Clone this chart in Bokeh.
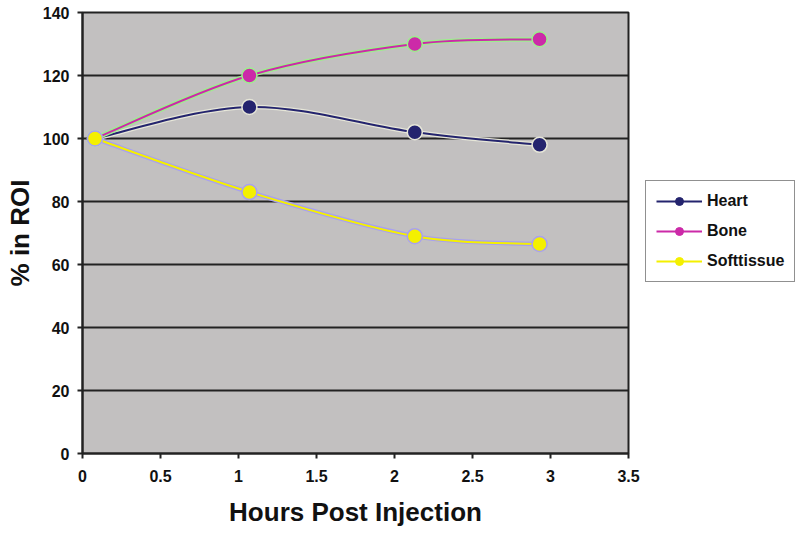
import numpy as np
from bokeh.plotting import figure
from bokeh.layouts import row
from bokeh.models import Legend, LegendItem, FixedTicker, Range1d
from bokeh.embed import file_html
from bokeh.resources import INLINE

# ---- data ----
hours = [0.08, 1.07, 2.13, 2.93]
heart = [100, 110, 102, 98]
bone = [100, 120, 130, 131.5]
softtissue = [100, 83, 69, 66.5]

x_ticks = [0, 0.5, 1, 1.5, 2, 2.5, 3, 3.5]
x_tick_labels = ["0", "0.5", "1", "1.5", "2", "2.5", "3", "3.5"]
y_ticks = [0, 20, 40, 60, 80, 100, 120, 140]

series = [
    ("Heart", heart, "#24246e", "#e6e6d8"),
    ("Bone", bone, "#cc2aa8", "#9cef8c"),
    ("Softtissue", softtissue, "#f4f000", "#a8a0f0"),
]

p = figure(width=640, height=532, output_backend="svg", toolbar_location=None,
           x_range=Range1d(0, 3.5), y_range=Range1d(0, 140),
           min_border_left=82, min_border_right=12, min_border_top=12,
           min_border_bottom=79)
p.border_fill_color = "white"
p.background_fill_color = "#c2c0c0"
p.outline_line_color = "#222222"
p.outline_line_width = 2

p.xgrid.visible = False
p.ygrid.ticker = FixedTicker(ticks=y_ticks)
p.ygrid.grid_line_color = "#222222"
p.ygrid.grid_line_width = 2

for ax in (p.xaxis[0], p.yaxis[0]):
    ax.axis_line_color = "#222222"
    ax.axis_line_width = 2
    ax.major_tick_line_color = "#222222"
    ax.major_tick_line_width = 2
    ax.major_tick_out = 5
    ax.major_tick_in = 0
    ax.minor_tick_line_color = None
    ax.major_label_text_font = "Liberation Sans"
    ax.major_label_text_font_style = "bold"
    ax.major_label_text_font_size = "16px"
    ax.major_label_text_color = "#111111"
    ax.axis_label_text_font = "Liberation Sans"
    ax.axis_label_text_font_style = "bold"
    ax.axis_label_text_color = "#111111"

p.xaxis.ticker = FixedTicker(ticks=x_ticks)
p.xaxis.major_label_overrides = {t: l for t, l in zip(x_ticks, x_tick_labels)}
p.xaxis.major_label_standoff = 11
p.yaxis.ticker = FixedTicker(ticks=y_ticks)
p.yaxis.major_label_standoff = 8
p.xaxis.axis_label = "Hours Post Injection"
p.xaxis.axis_label_text_font_size = "26px"
p.xaxis.axis_label_standoff = 12
p.yaxis.axis_label = "% in ROI"
p.yaxis.axis_label_text_font_size = "26px"
p.yaxis.axis_label_standoff = 5

# legend panel (to the right of the plot); its frame is aligned with the plot frame
pl = figure(width=160, height=532, output_backend="svg", toolbar_location=None,
            x_range=Range1d(0, 1), y_range=Range1d(0, 1),
            min_border=0, x_axis_location=None, y_axis_location=None)
pl.outline_line_color = None
pl.xgrid.visible = False
pl.ygrid.visible = False
pl.background_fill_color = "white"
pl.border_fill_color = "white"

items = []
xs = np.array(hours, dtype=float)
for name, vals, color, halo in series:
    ys = np.array(vals, dtype=float)
    n = len(xs)
    # Catmull-Rom style smooth curve segments (Excel-like smoothing)
    xp = np.concatenate([[xs[0]], xs, [xs[-1]]])
    yp = np.concatenate([[ys[0]], ys, [ys[-1]]])
    x0 = xs[:-1]; y0 = ys[:-1]; x1 = xs[1:]; y1 = ys[1:]
    cx0 = x0 + (xp[2:n + 1] - xp[0:n - 1]) / 6.0
    cy0 = y0 + (yp[2:n + 1] - yp[0:n - 1]) / 6.0
    cx1 = x1 - (xp[3:n + 2] - xp[1:n]) / 6.0
    cy1 = y1 - (yp[3:n + 2] - yp[1:n]) / 6.0
    p.bezier(x0=x0, y0=y0, x1=x1, y1=y1, cx0=cx0, cy0=cy0, cx1=cx1, cy1=cy1,
             line_color=halo, line_width=4.5)
    p.bezier(x0=x0, y0=y0, x1=x1, y1=y1, cx0=cx0, cy0=cy0, cx1=cx1, cy1=cy1,
             line_color=color, line_width=2)
    p.scatter(xs, ys, size=15, fill_color=color, line_color=halo, line_width=1.5)
    # legend proxies, placed outside the visible range of the legend panel
    lr = pl.line(x=[-5, -4], y=[-5, -5], line_color=color, line_width=2)
    lp = pl.scatter(x=[-5], y=[-5], size=9, fill_color=color, line_color=color)
    items.append(LegendItem(label=name, renderers=[lr, lp]))

legend = Legend(items=items, location=(5, 171))
legend.label_text_font = "Liberation Sans"
legend.label_text_font_style = "bold"
legend.label_text_font_size = "16px"
legend.label_text_color = "#111111"
legend.border_line_color = "#222222"
legend.border_line_width = 1.5
legend.background_fill_color = "white"
legend.glyph_width = 46
legend.glyph_height = 20
legend.label_standoff = 5
legend.label_height = 20
legend.spacing = 10
legend.padding = 10
legend.margin = 0
pl.add_layout(legend, "center")

layout = row(p, pl)
open("out.html", "w").write(file_html(layout, INLINE))
